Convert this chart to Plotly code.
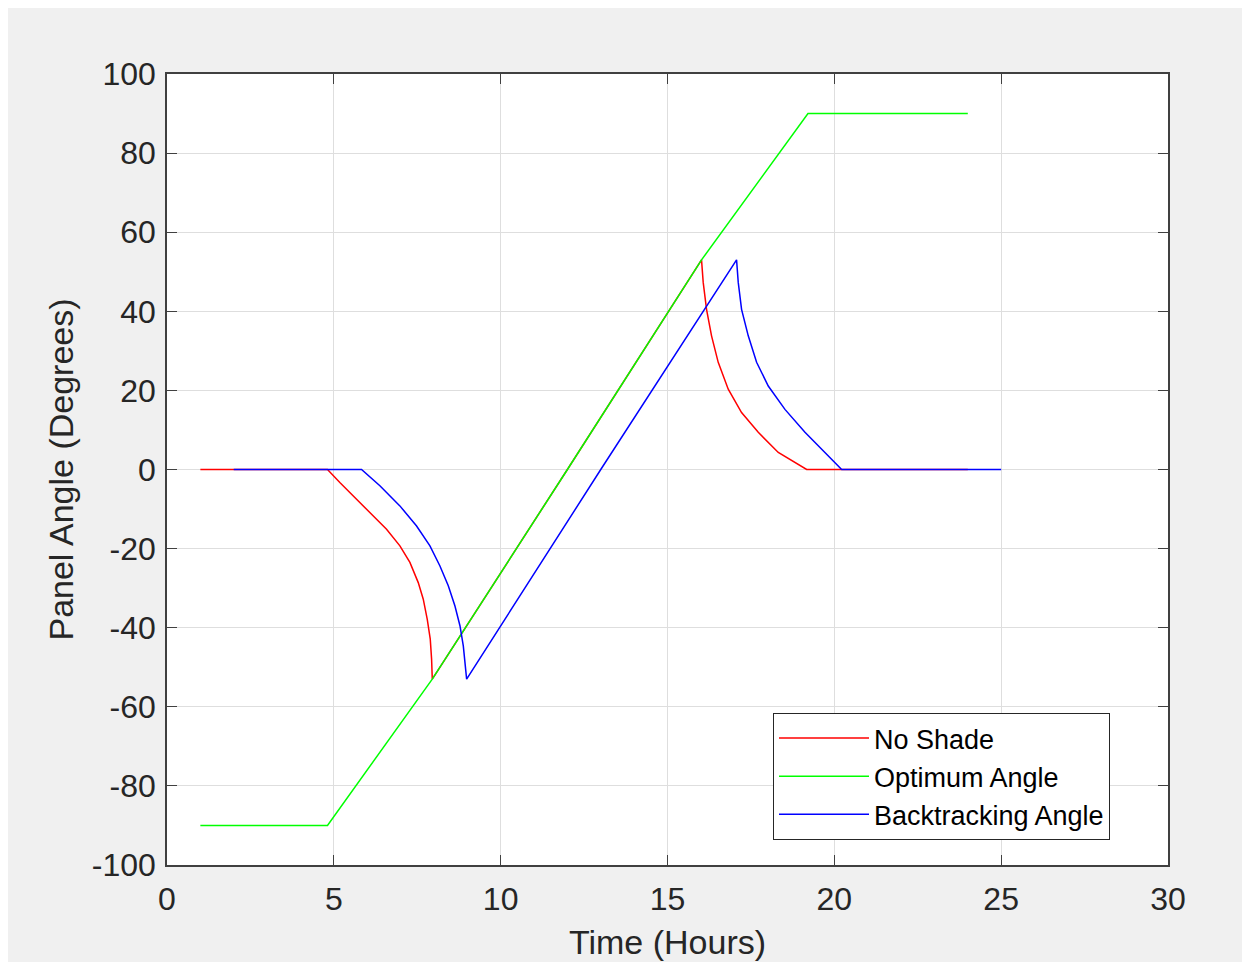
import plotly.graph_objects as go

# ---- data ----
no_shade_x = [1, 4.81, 5.18, 5.58, 6.08, 6.58, 6.98, 7.28, 7.53, 7.68, 7.80, 7.89, 7.93, 7.95,
              12.0, 16.02, 16.07, 16.17, 16.32, 16.52, 16.82, 17.22, 17.72, 18.32, 19.17, 24]
no_shade_y = [0, 0, -3.3, -6.7, -10.9, -15.1, -19.3, -23.5, -28.6, -32.8, -37.9, -42.9, -48.0, -53.0,
              0, 53.0, 47.3, 40.5, 33.8, 27.1, 20.3, 14.4, 9.4, 4.3, 0, 0]

optimum_x = [1, 4.81, 7.95, 12.0, 16.02, 19.21, 24]
optimum_y = [-90, -90, -53, 0, 53, 90, 90]

backtrack_x = [2, 5.83, 6.38, 6.98, 7.48, 7.88, 8.18, 8.43, 8.63, 8.78, 8.88, 8.93, 8.98,
               13.0, 17.07, 17.12, 17.22, 17.42, 17.67, 18.02, 18.52, 19.12, 19.72, 20.22, 25]
backtrack_y = [0, 0, -4.1, -9.2, -14.3, -19.3, -24.4, -29.4, -34.5, -39.5, -44.6, -48.8, -53.0,
               0, 53.0, 47.3, 40.5, 33.8, 27.1, 21.1, 15.2, 9.4, 4.3, 0, 0]

x_ticks = [0, 5, 10, 15, 20, 25, 30]
y_ticks = [-100, -80, -60, -40, -20, 0, 20, 40, 60, 80, 100]
y_tick_labels = [str(v) for v in y_ticks]
x_tick_labels = [str(v) for v in x_ticks]

FONT = "Liberation Sans, Arial, sans-serif"
AX = "#262626"

fig = go.Figure()
fig.add_trace(go.Scatter(x=no_shade_x, y=no_shade_y, mode="lines", name="No Shade",
                         line=dict(color="#ff0000", width=1.5)))
fig.add_trace(go.Scatter(x=optimum_x, y=optimum_y, mode="lines", name="Optimum Angle",
                         line=dict(color="#00ff00", width=1.5)))
fig.add_trace(go.Scatter(x=backtrack_x, y=backtrack_y, mode="lines", name="Backtracking Angle",
                         line=dict(color="#0000ff", width=1.5)))

axis_common = dict(
    showgrid=True, gridcolor="#dedede", gridwidth=1,
    showline=True, linecolor="#404040", linewidth=1.5, mirror="allticks",
    ticks="inside", ticklen=10, tickcolor="#404040", tickwidth=1,
    zeroline=False,
    tickfont=dict(family=FONT, size=32, color=AX),
)

fig.update_xaxes(range=[0, 30], tickvals=x_ticks, ticktext=x_tick_labels, ticklabelstandoff=5,
                 title=dict(text="Time (Hours)", font=dict(family=FONT, size=34, color=AX), standoff=14),
                 **axis_common)
fig.update_yaxes(range=[-100, 100], tickvals=y_ticks, ticktext=y_tick_labels, ticklabelstandoff=3,
                 title=dict(text="Panel Angle (Degrees)", font=dict(family=FONT, size=34, color=AX), standoff=8),
                 **axis_common)

W, H = 1242, 954
L, R, T, B = 159, 82, 66, 97
pw, ph = W - L - R, H - T - B

fig.update_layout(
    width=W, height=H,
    margin=dict(l=L, r=R, t=T, b=B, autoexpand=False),
    paper_bgcolor="#f0f0f0", plot_bgcolor="white",
    font=dict(family=FONT, color=AX),
    showlegend=True,
    legend=dict(x=(765 - L) / pw, y=(H - B - 705) / ph, xanchor="left", yanchor="top",
                bgcolor="white", bordercolor=AX, borderwidth=1,
                font=dict(family=FONT, size=27, color="black"),
                itemwidth=90, tracegroupgap=0),
)

fig.write_html("out.html")
